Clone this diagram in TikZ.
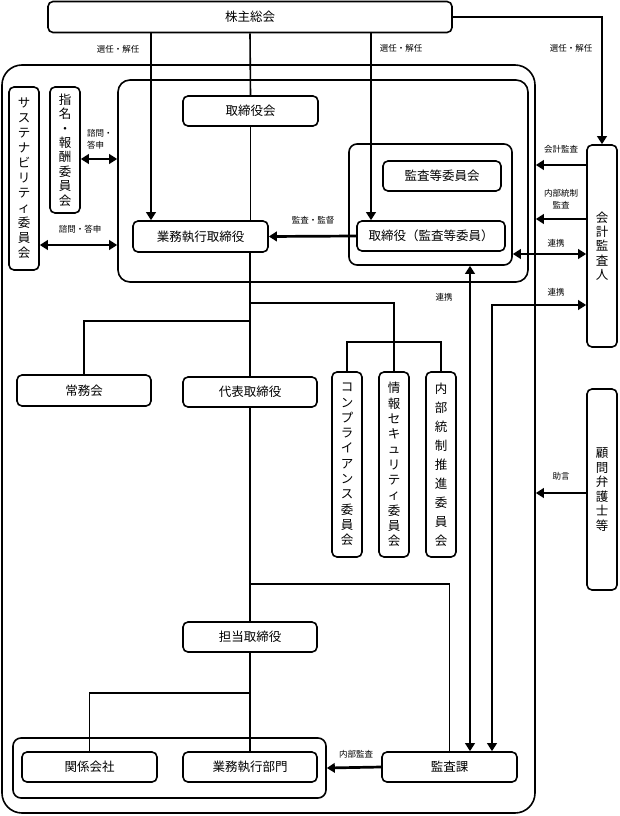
\documentclass[tikz,border=0pt]{standalone}
\usepackage{fontspec}
\setmainfont{Noto Sans CJK JP}
\usetikzlibrary{arrows.meta}
\begin{document}
\begin{tikzpicture}[x=1pt,y=-1pt,
  box/.style={draw,line width=1.6pt,rounded corners=5pt,fill=white,inner sep=0pt,font=\fontsize{12.5}{15}\selectfont,align=center},
  hbox/.style={box,minimum width=135pt,minimum height=30pt},
  vbox/.style={box,minimum width=30pt},
  cont/.style={draw,line width=1.6pt,inner sep=0pt},
  ln/.style={line width=1.6pt},
  arr/.style={line width=2.7pt,-{Triangle[length=8pt,width=9.5pt]}},
  darr/.style={line width=2.7pt,{Triangle[length=8pt,width=9.5pt]}-{Triangle[length=8pt,width=9.5pt]}},
  lbl/.style={font=\fontsize{8.5}{12}\selectfont,inner sep=0pt,align=center}]
\useasboundingbox (0,0) rectangle (619,816);

% containers
\node[cont,rounded corners=20pt,minimum width=533pt,minimum height=748pt] (outer) at (268.5,439) {};
\node[cont,rounded corners=12pt,minimum width=410pt,minimum height=202pt] (board) at (323,181) {};
\node[cont,rounded corners=8pt,minimum width=163pt,minimum height=121pt] (acg) at (430.5,204.5) {};
\node[cont,rounded corners=8pt,minimum width=313pt,minimum height=60pt] (grp) at (169.5,768) {};

% boxes
\node[hbox,minimum width=404pt,minimum height=31pt] (gm) at (250,17) {株主総会};
\node[hbox] (bod) at (250.5,111) {取締役会};
\node[hbox,minimum width=118pt] (acc) at (442,176) {監査等委員会};
\node[hbox,minimum width=148pt] (adir) at (431,236) {取締役（監査等委員）};
\node[hbox,minimum height=31pt] (exe) at (200.5,236.5) {業務執行取締役};
\node[vbox,minimum height=183pt] (sus) at (24,178.5) {サ\\ス\\テ\\ナ\\ビ\\リ\\テ\\ィ\\委\\員\\会};
\node[vbox,minimum height=126pt,font=\fontsize{12.5}{14.4}\selectfont] (nom) at (65,150) {指\\名\\・\\報\\酬\\委\\員\\会};
\node[vbox,minimum height=202pt,font=\fontsize{12.5}{14.2}\selectfont] (aud) at (602,246) {会\\計\\監\\査\\人};
\node[vbox,minimum height=201pt,font=\fontsize{12.5}{14.6}\selectfont] (law) at (602,489.5) {顧\\問\\弁\\護\\士\\等};
\node[hbox,minimum width=134pt,minimum height=31pt] (jom) at (84,390.5) {常務会};
\node[hbox,minimum width=134pt] (rep) at (250,392) {代表取締役};
\node[vbox,minimum height=185pt,font=\fontsize{12.5}{15.3}\selectfont] (comp) at (347,464.5) {コ\\ン\\プ\\ラ\\イ\\ア\\ン\\ス\\委\\員\\会};
\node[vbox,minimum height=185pt,font=\fontsize{12.5}{15.3}\selectfont] (info) at (394,464.5) {情\\報\\セ\\キ\\ュ\\リ\\テ\\ィ\\委\\員\\会};
\node[vbox,minimum height=185pt,font=\fontsize{12.5}{19}\selectfont] (ic) at (441,464.5) {内\\部\\統\\制\\推\\進\\委\\員\\会};
\node[hbox,minimum width=134pt] (tan) at (250,637) {担当取締役};
\node[hbox] (rel) at (89.5,767) {関係会社};
\node[hbox,minimum width=134pt] (dept) at (250,767) {業務執行部門};
\node[hbox] (audsec) at (449.5,767) {監査課};

% helper coordinates
\coordinate (xa) at (151,0);
\coordinate (xb) at (371,0);
\coordinate (x470) at (470,0);
\coordinate (x492) at (492,0);
\coordinate (y159) at (0,159);
\coordinate (y245) at (0,245);
\coordinate (y165) at (0,165);
\coordinate (y219) at (0,219);
\coordinate (y254) at (0,254);
\coordinate (y305) at (0,305);
\coordinate (y493) at (0,493);
\coordinate (y303) at (0,303);
\coordinate (y321) at (0,321);
\coordinate (y342) at (0,342);
\coordinate (y584) at (0,584);
\coordinate (y693) at (0,693);

% main vertical line
\draw[ln] (gm.south) -- (bod.north);
\draw[ln] (bod.south) -- (exe.north -| bod.south);
\draw[ln] (exe.south -| rep.north) -- (rep.north);
\draw[ln] (rep.south) -- (tan.north);
\draw[ln] (tan.south) -- (dept.north);

% branches
\draw[ln] (rep.north |- y321) -| (jom.north);
\draw[ln] (rep.north |- y303) -| (info.north);
\draw[ln] (comp.north) |- (ic.north |- y342) -- (ic.north);
\draw[ln] (tan.north |- y584) -| (audsec.north);
\draw[ln] (tan.south |- y693) -| (rel.north);

% arrows
\draw[arr] (gm.south -| xa) -- (exe.north -| xa);
\draw[arr] (gm.south -| xb) -- (adir.north -| xb);
\draw[arr] (gm.east) -| (aud.north);
\draw[arr] (adir.west) -- (exe.east);
\draw[darr] (nom.east |- y159) -- (board.west |- y159);
\draw[darr] (sus.east |- y245) -- (board.west |- y245);
\draw[arr] (aud.west |- y165) -- (outer.east |- y165);
\draw[arr] (aud.west |- y219) -- (outer.east |- y219);
\draw[darr] (acg.east |- y254) -- (aud.west |- y254);
\draw[arr] (law.west |- y493) -- (outer.east |- y493);
\draw[darr] (acg.south -| x470) -- (audsec.north -| x470);
\draw[darr] (audsec.north -| x492) -- (x492 |- y305) -- (aud.west |- y305);
\draw[arr] (audsec.west) -- (grp.east);

% labels
\node[lbl] (l1) at (118,49) {選任・解任};
\node[lbl] (l2) at (401,48) {選任・解任};
\node[lbl] (l3) at (571,48) {選任・解任};
\node[lbl,anchor=west,align=left] (l4) at (87,139) {諮問・\\答申};
\node[lbl] (l5) at (80,229) {諮問・答申};
\node[lbl] (l6) at (313,220) {監査・監督};
\node[lbl] (l7) at (561,149) {会計監査};
\node[lbl] (l8) at (561,199) {内部統制\\監査};
\node[lbl] (l9) at (556,243) {連携};
\node[lbl] (l10) at (556,292) {連携};
\node[lbl] (l11) at (444,297) {連携};
\node[lbl] (l12) at (561,476) {助言};
\node[lbl] (l13) at (356,754) {内部監査};
\end{tikzpicture}
\end{document}
